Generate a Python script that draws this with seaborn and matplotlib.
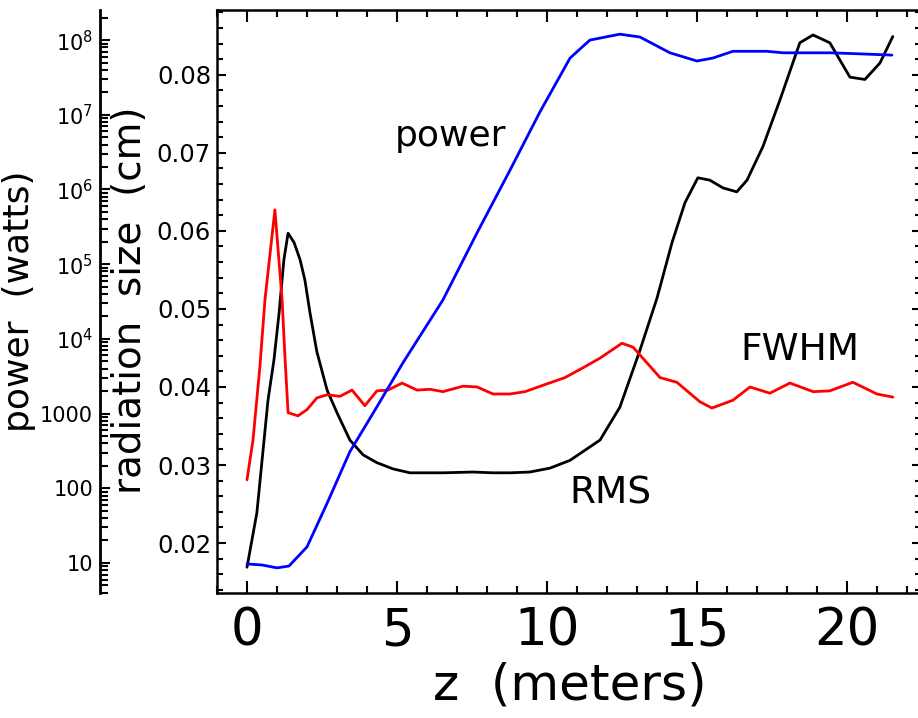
import numpy as np
import matplotlib
matplotlib.use("Agg")
import matplotlib.pyplot as plt
import seaborn as sns
from matplotlib.ticker import MultipleLocator, NullFormatter, FixedLocator, FixedFormatter

# power (watts), log axis
z_power = [0.0, 0.5, 1.0, 1.4, 2.0, 2.67, 3.43, 4.33, 5.2, 6.53, 7.67, 8.77, 9.77, 10.77,
           11.43, 12.43, 13.1, 14.1, 15.0, 15.53, 16.2, 17.33, 17.87, 19.43, 20.2, 21.5]
power = [9.7, 9.4, 8.6, 9.1, 16.4, 63, 309, 1230, 4790, 33100, 263000, 1820000, 1.1e7, 5.75e7,
         1.0e8, 1.2e8, 1.1e8, 6.76e7, 5.25e7, 5.75e7, 7.08e7, 7.08e7, 6.76e7, 6.76e7, 6.6e7, 6.3e7]

# FWHM radiation size (cm)
z_fwhm = [0.0, 0.2, 0.43, 0.6, 0.93, 1.17, 1.27, 1.37, 1.7, 2.0, 2.33, 2.67, 3.1, 3.5, 3.93,
          4.33, 4.7, 5.17, 5.67, 6.1, 6.53, 7.2, 7.67, 8.2, 8.77, 9.27, 9.93, 10.6, 11.27,
          11.77, 12.5, 12.87, 13.77, 14.33, 15.1, 15.5, 16.2, 16.77, 17.43, 18.1, 18.87,
          19.43, 20.2, 21.0, 21.53]
fwhm = [0.0281, 0.0332, 0.0426, 0.0512, 0.0627, 0.0512, 0.0435, 0.0367, 0.0363, 0.0371,
        0.0386, 0.0390, 0.0388, 0.0396, 0.0376, 0.0395, 0.0396, 0.0405, 0.0396, 0.0397,
        0.0394, 0.0401, 0.0400, 0.0391, 0.0391, 0.0394, 0.0403, 0.0412, 0.0426, 0.0437,
        0.0456, 0.0451, 0.0412, 0.0406, 0.0381, 0.0373, 0.0383, 0.0400, 0.0392, 0.0405,
        0.0394, 0.0395, 0.0406, 0.0391, 0.0387]

# RMS radiation size (cm)
z_rms = [0.0, 0.33, 0.7, 0.9, 1.07, 1.23, 1.37, 1.57, 1.77, 1.93, 2.1, 2.33, 2.67, 3.0, 3.43,
         3.87, 4.33, 4.87, 5.43, 6.53, 7.53, 8.2, 8.77, 9.43, 10.1, 10.77, 11.27, 11.77,
         12.43, 13.1, 13.67, 14.17, 14.6, 15.03, 15.43, 15.87, 16.33, 16.67, 17.2, 17.77,
         18.43, 18.87, 19.43, 20.1, 20.6, 21.1, 21.53]
rms = [0.0169, 0.0239, 0.0383, 0.0435, 0.0495, 0.0563, 0.0597, 0.0585, 0.0563, 0.0537,
       0.0495, 0.0445, 0.0396, 0.0367, 0.0332, 0.0313, 0.0303, 0.0295, 0.0290, 0.0290,
       0.0291, 0.0290, 0.0290, 0.0291, 0.0296, 0.0306, 0.0319, 0.0332, 0.0374, 0.0447,
       0.0514, 0.0585, 0.0636, 0.0668, 0.0665, 0.0655, 0.0650, 0.0665, 0.0708, 0.0768,
       0.0841, 0.0851, 0.0841, 0.0797, 0.0794, 0.0815, 0.0849]

power_ticks = [10, 100, 1000, 1e4, 1e5, 1e6, 1e7, 1e8]
power_labels = ['10', '100', '1000', '10$^4$', '10$^5$', '10$^6$', '10$^7$', '10$^8$']
power_minor = [k * 10.0 ** n for n in range(0, 9) for k in range(2, 10)]

sns.set_style("white")
plt.rcParams['font.family'] = ['DejaVu Sans']
plt.rcParams['mathtext.default'] = 'regular'
plt.rcParams['text.color'] = 'black'

W, H = 918, 718
fig = plt.figure(figsize=(W / 100, H / 100), dpi=100)
ax = fig.add_axes([217 / W, (H - 593) / H, (921 - 217) / W, (593 - 10) / H])
ax2 = ax.twinx()
ax2.set_yscale('log')

sns.lineplot(x=z_rms, y=rms, ax=ax, color='black', linewidth=2, estimator=None, sort=False)
sns.lineplot(x=z_fwhm, y=fwhm, ax=ax, color='red', linewidth=2, estimator=None, sort=False)
sns.lineplot(x=z_power, y=power, ax=ax2, color='blue', linewidth=2, estimator=None, sort=False)

ax.set_xlim(-1.0, 22.47)
ax.set_ylim(0.0136, 0.0883)
ax2.set_ylim(10 ** 0.598, 10 ** 8.403)

for s in ax.spines.values():
    s.set_linewidth(1.8)
    s.set_color('black')
ax.xaxis.set_major_locator(MultipleLocator(5))
ax.xaxis.set_minor_locator(MultipleLocator(1))
ax.yaxis.set_major_locator(MultipleLocator(0.01))
ax.yaxis.set_minor_locator(MultipleLocator(0.002))
ax.yaxis.set_major_formatter(matplotlib.ticker.FormatStrFormatter('%.2f'))
ax.tick_params(axis='x', which='both', direction='in', top=True, bottom=True, width=1.5,
               labelsize=37, pad=10, colors='black')
ax.tick_params(axis='x', which='major', length=8.6)
ax.tick_params(axis='x', which='minor', length=5)
ax.tick_params(axis='y', which='both', direction='in', left=True, right=True, width=1.5,
               labelsize=17.5, pad=4.3, colors='black')
ax.tick_params(axis='y', which='major', length=6.5)
ax.tick_params(axis='y', which='minor', length=4.3)
ax.set_xlabel('')
ax.set_ylabel('')

for k in ['right', 'top', 'bottom']:
    ax2.spines[k].set_visible(False)
ax2.spines['left'].set_visible(True)
ax2.spines['left'].set_position(('outward', 117 * 0.72))
ax2.spines['left'].set_linewidth(2)
ax2.spines['left'].set_color('black')
ax2.yaxis.set_ticks_position('left')
ax2.yaxis.set_major_locator(FixedLocator(power_ticks))
ax2.yaxis.set_major_formatter(FixedFormatter(power_labels))
ax2.yaxis.set_minor_locator(FixedLocator(power_minor))
ax2.yaxis.set_minor_formatter(NullFormatter())
ax2.tick_params(axis='y', which='both', direction='in', left=True, right=False, width=1.5,
                labelsize=15, pad=5, colors='black')
ax2.tick_params(axis='y', which='major', length=7.5)
ax2.tick_params(axis='y', which='minor', length=6)
ax2.set_ylabel('')

ax.text(6.77, 0.0721, 'power', fontsize=26, ha='center', va='center')
ax.text(12.1, 0.0264, 'RMS', fontsize=27, ha='center', va='center')
ax.text(18.43, 0.0447, 'FWHM', fontsize=27, ha='center', va='center')

fig.text(570 / W, (H - 700) / H, 'z  (meters)', fontsize=36, ha='center', va='baseline')
fig.text(19 / W, (H - 301) / H, 'power  (watts)', fontsize=26, rotation=90,
         ha='center', va='center')
fig.text(130 / W, (H - 300) / H, 'radiation  size  (cm)', fontsize=28, rotation=90,
         ha='center', va='center')

fig.savefig('out.png', dpi=100)
